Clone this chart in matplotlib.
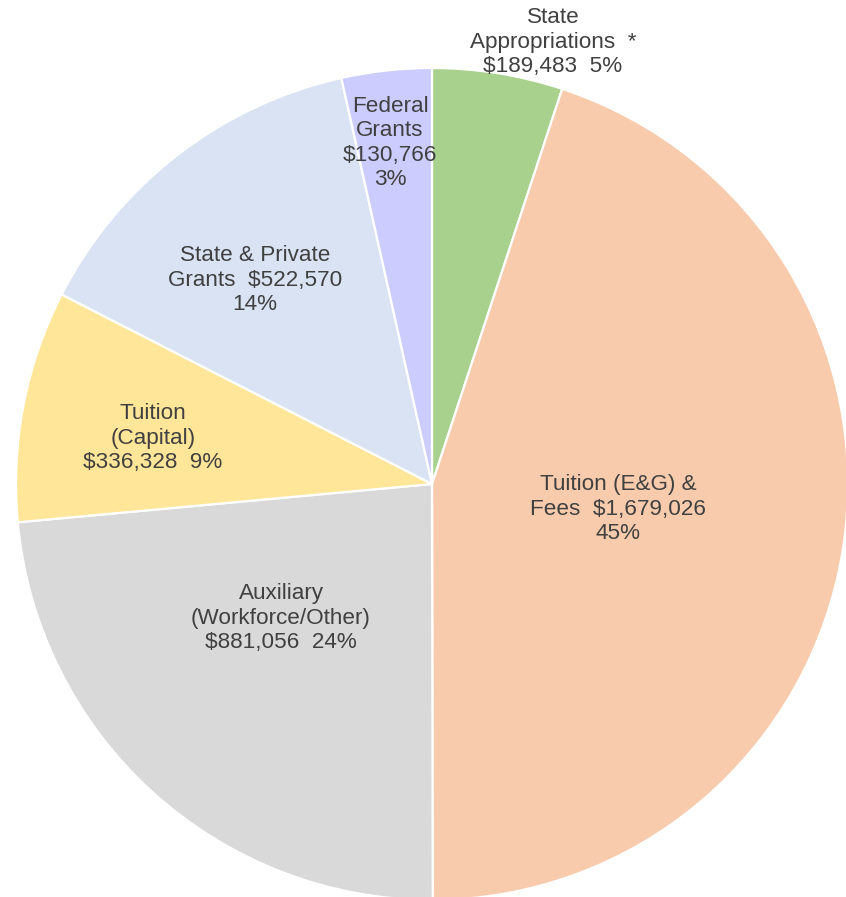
import matplotlib
matplotlib.use("Agg")
import matplotlib.pyplot as plt

# ---- data ----
categories = ["State Appropriations", "Tuition (E&G) & Fees", "Auxiliary (Workforce/Other)",
              "Tuition (Capital)", "State & Private Grants", "Federal Grants"]
values = [189483, 1679026, 881056, 336328, 522570, 130766]
label_templates = [
    "State\nAppropriations  *\n{v}  {p}",
    "Tuition (E&G) &\nFees  {v}\n{p}",
    "Auxiliary\n(Workforce/Other)\n{v}  {p}",
    "Tuition\n(Capital)\n{v}  {p}",
    "State & Private\nGrants  {v}\n{p}",
    "Federal\nGrants\n{v}\n{p}",
]

# ---- styles / layout ----
colors = ["#A9D18E", "#F8CBAD", "#D9D9D9", "#FFE699", "#DAE3F3", "#CCCCFF"]
W, H = 846, 897
center_px = (432, 484)
radius_px = 416
label_pos_px = [(553, 42), (618, 509), (281, 618), (153, 438), (255, 280), (390, 143)]

fig = plt.figure(figsize=(W / 100, H / 100), dpi=100)
ax = fig.add_axes([0, 0, 1, 1])
total = sum(values)
ax.pie(values, colors=colors, startangle=90, counterclock=False,
       center=(center_px[0], H - center_px[1]), radius=radius_px,
       wedgeprops=dict(edgecolor="white", linewidth=1.6))
ax.set_xlim(0, W)
ax.set_ylim(0, H)
ax.set_aspect("equal")
ax.axis("off")

for tmpl, v, (x, y) in zip(label_templates, values, label_pos_px):
    pct = f"{round(100 * v / total)}%"
    txt = tmpl.format(v=f"${v:,}", p=pct)
    ax.text(x, H - y, txt, ha="center", va="center", fontsize=16.2,
            family=["Liberation Sans", "DejaVu Sans"], color="#404040",
            linespacing=1.22)

fig.savefig("out.png", dpi=100)
